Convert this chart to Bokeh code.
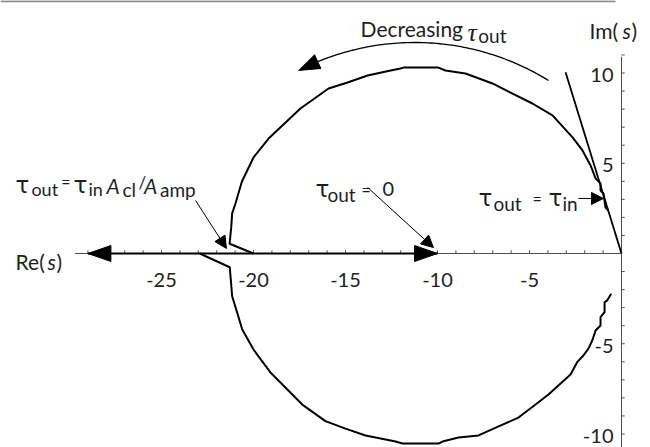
import numpy as np
from bokeh.plotting import figure
from bokeh.models import Range1d, Arrow, NormalHead
from bokeh.core.properties import value
from bokeh.embed import file_html
from bokeh.resources import INLINE

# ---- root locus data (Re(s), Im(s)) ----
# upper complex branch, from the break-away point near -20 round to the origin
upper_re = [-20.0, -21.30, -21.21, -21.16, -20.98, -20.63, -20.0, -19.18, -17.45,
            -15.92, -14.89, -13.80, -12.55, -12.01, -11.85, -9.95, -9.57, -8.48,
            -7.01, -5.92, -4.84, -3.75, -2.66, -2.12, -1.68, -1.41, -1.14, -1.14,
            -0.98, -0.87, -0.71]
upper_im = [0.0, 0.54, 1.46, 2.22, 2.77, 3.99, 5.32, 6.37, 8.03,
            9.14, 9.47, 9.86, 10.14, 10.25, 10.30, 10.30, 10.14, 9.97,
            9.42, 8.86, 8.31, 7.65, 6.43, 5.71, 4.88, 4.16, 3.88, 3.49,
            3.32, 2.55, 2.38]
# lower complex branch, from the break-away point near -23 round to the origin
lower_re = [-22.92, -21.29, -21.16, -20.89, -20.61, -20.0, -19.08, -17.35, -16.09,
            -15.0, -13.91, -12.28, -11.90, -9.95, -9.73, -8.86, -7.77, -6.68,
            -5.60, -4.67, -3.97, -2.77, -2.41, -2.07, -1.79, -1.59, -1.41, -1.14,
            -1.14, -0.92, -0.92, -0.78, -0.56]
lower_im = [0.0, -0.76, -2.37, -3.27, -4.21, -5.32, -6.59, -8.37, -9.29,
            -9.70, -10.08, -10.42, -10.53, -10.53, -10.42, -10.19, -10.08, -9.58,
            -9.09, -8.37, -7.81, -6.70, -6.02, -5.65, -5.26, -4.82, -4.27, -3.99,
            -3.53, -3.25, -2.70, -2.60, -2.23]
# branch lying on the real axis (runs off to -infinity on the left, ends at -10)
real_re = [-29.0, -10.0]
real_im = [0.0, 0.0]
# straight line through the origin
line_re = [0.0, -3.04]
line_im = [0.0, 10.04]

# ---- axes ----
x_ticks = list(range(-29, 0))
y_ticks = [v for v in range(-10, 12) if v != 0]
x_tick_labels = [-25, -20, -15, -10, -5]
y_tick_labels = [-10, -5, 5, 10]

# ---- page geometry ----
W, H = 650, 447
PX_X, PX_Y = 18.4, 18.05      # screen pixels per unit
ORIGIN_PX = (621, 253)        # where s = 0 sits on the page
FONT = "Lato"
GREEK = "DejaVu Sans"
INK = "#1e1e1e"
AXIS = "#4d4d4d"

p = figure(width=W, height=H,
           x_range=Range1d(-ORIGIN_PX[0] / PX_X, (W - ORIGIN_PX[0]) / PX_X),
           y_range=Range1d(-(H - ORIGIN_PX[1]) / PX_Y, ORIGIN_PX[1] / PX_Y),
           x_axis_type=None, y_axis_type=None,
           toolbar_location=None, output_backend="svg", min_border=0)
p.outline_line_color = None
p.background_fill_color = "white"
p.border_fill_color = "white"

# rule across the top of the page
top = p.y_range.end - 0.04
p.line([p.x_range.start, -0.33], [top, top], line_color="#8a8a8a", line_width=2)

# axis lines
p.line([-29.7, 0.0], [0.0, 0.0], line_color=AXIS, line_width=1)
p.line([0.0, 0.0], [10.9, p.y_range.start], line_color=AXIS, line_width=1)
tick_dx = 3.2 / PX_X
tick_dy = 3.2 / PX_Y
p.segment(x0=x_ticks, y0=[0.0] * len(x_ticks), x1=x_ticks, y1=[tick_dy] * len(x_ticks),
          line_color=AXIS, line_width=1)
p.segment(x0=[0.0] * len(y_ticks), y0=y_ticks, x1=[tick_dx] * len(y_ticks), y1=y_ticks,
          line_color=AXIS, line_width=1)

p.text(x=x_tick_labels, y=[-26 / PX_Y] * len(x_tick_labels),
       text=[str(v) for v in x_tick_labels],
       text_font=value(FONT), text_font_size="20px", text_color=INK,
       text_align="center", text_baseline="middle")
p.text(x=[-8 / PX_X] * len(y_tick_labels), y=[v - 0.1 for v in y_tick_labels],
       text=[str(v) for v in y_tick_labels],
       text_font=value(FONT), text_font_size="20px", text_color=INK,
       text_align="right", text_baseline="middle")

# locus
p.line(real_re, real_im, line_color="black", line_width=2.2)
p.line(upper_re, upper_im, line_color="black", line_width=2)
p.line(lower_re, lower_im, line_color="black", line_width=2)
p.line(line_re, line_im, line_color="black", line_width=1.8)


def head(tip, direction, length=23, width=16):
    """Filled triangular arrowhead; direction and sizes are in screen pixels (y up)."""
    tx, ty = tip
    dx, dy = direction
    n = np.hypot(dx, dy)
    dx, dy = dx / n, dy / n
    bx, by = -dx * length, -dy * length
    nx, ny = -dy * width / 2, dx * width / 2
    xs = [tx, tx + (bx + nx) / PX_X, tx + (bx - nx) / PX_X]
    ys = [ty, ty + (by + ny) / PX_Y, ty + (by - ny) / PX_Y]
    return xs, ys


for xs, ys in (head((real_re[0], 0.0), (-1, 0)), head((real_re[1], 0.0), (1, 0))):
    p.patch(xs, ys, fill_color="black", line_color="black", line_width=1)

# "Decreasing tau_out" arc with its arrowhead
arc_c = (-11.24, -2.42)
arc_r = 254.7
t = np.radians(np.linspace(58.3, 112.4, 80))
p.line(arc_c[0] + arc_r * np.cos(t) / PX_X, arc_c[1] + arc_r * np.sin(t) / PX_Y,
       line_color="black", line_width=1.3)
t_tip, t_base = np.radians(117.1), np.radians(112.4)
tip = (arc_c[0] + arc_r * np.cos(t_tip) / PX_X, arc_c[1] + arc_r * np.sin(t_tip) / PX_Y)
direction = (np.cos(t_tip) - np.cos(t_base), np.sin(t_tip) - np.sin(t_base))
xs, ys = head(tip, direction, length=21, width=15)
p.patch(xs, ys, fill_color="black", line_color="black", line_width=1)

# pointer arrows for the annotations
for x0, y0, x1, y1 in ((-23.15, 2.94, -21.47, 0.28),
                       (-13.80, 3.66, -10.22, 0.33),
                       (-2.34, 3.05, -0.98, 3.05)):
    p.add_layout(Arrow(end=NormalHead(size=12, fill_color="black", line_color="black"),
                       x_start=x0, y_start=y0, x_end=x1, y_end=y1,
                       line_color="black", line_width=1))


def piece(x, y, s, size=21, style="normal", font=FONT):
    p.text(x=[x], y=[y], text=[s], text_font=value(font), text_font_size=f"{size}px",
           text_font_style=style, text_color=INK, text_align="left",
           text_baseline="alphabetic")


def tau(x, y, size=23):
    piece(x, y, "τ", size, "normal", GREEK)


# tau_out = tau_in A_cl / A_amp
tau(-32.93, 3.77)
piece(-32.07, 3.55, "out", 18)
piece(-30.45, 3.99, "=", 16)
tau(-29.78, 3.77)
piece(-28.97, 3.55, "in", 18)
piece(-27.99, 3.77, "A", 21, "italic")
piece(-27.12, 3.55, "cl", 19)
piece(-26.25, 3.93, "/", 17)
piece(-25.95, 3.77, "A", 21, "italic")
piece(-25.08, 3.55, "amp", 19)

# tau_out = 0
tau(-16.63, 3.60)
piece(-15.98, 3.27, "out", 19)
piece(-14.13, 3.55, "=", 16)
piece(-12.99, 3.60, "0", 20)

# tau_out = tau_in
tau(-7.77, 3.10)
piece(-6.96, 2.77, "out", 19)
piece(-4.84, 3.05, "=", 16)
tau(-3.97, 3.10)
piece(-3.21, 2.77, "in", 19)

# Decreasing tau_out
piece(-14.18, 12.47, "Decreasing", 21)
piece(-8.37, 12.25, "τ", 26, "italic", "Liberation Serif")
piece(-7.78, 12.08, "out", 19)

# axis names
piece(-32.93, -0.42, "Re(", 21)
piece(-31.20, -0.42, "s", 21, "italic")
piece(-30.70, -0.42, ")", 21)
piece(-1.74, 12.35, "Im(", 21)
piece(0.05, 12.35, "s", 21, "italic")
piece(0.54, 12.35, ")", 21)

open("out.html", "w").write(file_html(p, INLINE))
